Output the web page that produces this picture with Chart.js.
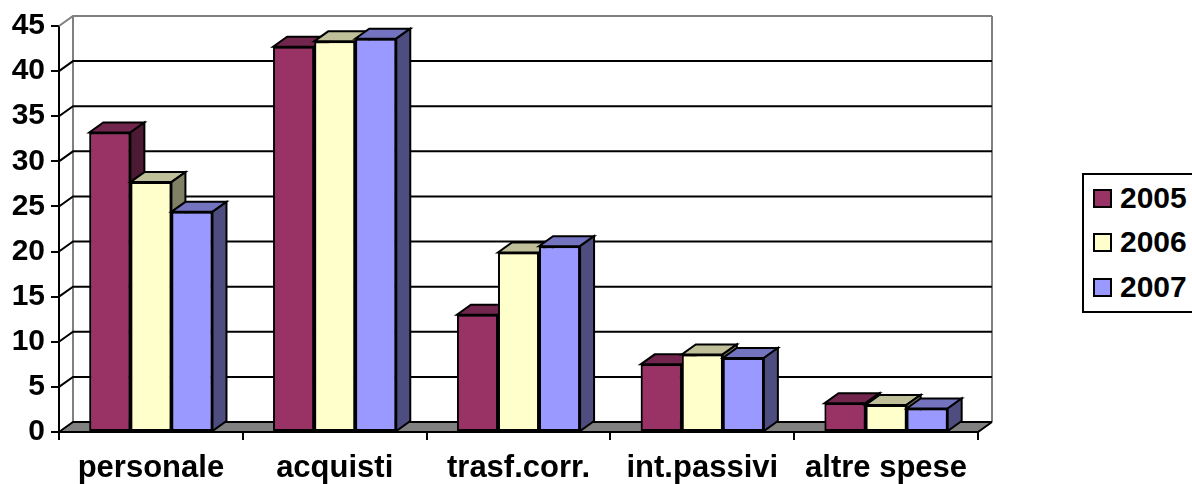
<!DOCTYPE html>
<html>
<head>
<meta charset="utf-8">
<script src="https://cdn.jsdelivr.net/npm/chart.js@4.4.1/dist/chart.umd.min.js"></script>
<style>
  html, body { margin: 0; padding: 0; background: #fff; overflow: hidden; }
  #wrap { position: relative; width: 1192px; height: 484px; }
  #legend {
    position: absolute; left: 1082px; top: 173px; width: 130px; height: 136px;
    border: 2px solid #000; background: #fff;
    font: bold 30px "Liberation Sans", Arial, sans-serif; color: #000;
  }
  .row { position: absolute; left: 9px; height: 32px; line-height: 32px; display: flex; align-items: center; }
  .sw { width: 15px; height: 15px; border: 2px solid #000; margin-right: 8px; }
</style>
</head>
<body>
<div id="wrap">
  <canvas id="chart" width="1192" height="484"></canvas>
  <div id="legend"></div>
</div>
<script>
// data
const categories = ['personale', 'acquisti', 'trasf.corr.', 'int.passivi', 'altre spese'];
const years = ['2005', '2006', '2007'];
const values2005 = [33.2, 42.7, 13.0, 7.5, 3.2];
const values2006 = [27.7, 43.3, 19.9, 8.6, 3.0];
const values2007 = [24.4, 43.6, 20.6, 8.2, 2.6];

const frontColors = ['#993366', '#FFFFCC', '#9999FF'];
const topColors = ['#73264D', '#BFBF99', '#7373BF'];
const sideColors = ['#4D1A33', '#808066', '#4D4D80'];

const FONT = '"Liberation Sans", Arial, sans-serif';
const DX = 14, DY = -10; // depth of the 3d box

function poly(ctx, pts, fill) {
    ctx.beginPath();
    ctx.moveTo(pts[0][0], pts[0][1]);
    for (let i = 1; i < pts.length; i++) ctx.lineTo(pts[i][0], pts[i][1]);
    ctx.closePath();
    ctx.fillStyle = fill;
    ctx.fill();
    ctx.stroke();
}

// back wall, floor and the sides/tops of the bars
const box3d = {
    id: 'box3d',
    beforeDatasetsDraw(chart) {
        const { ctx, chartArea: a, scales: { y } } = chart;
        ctx.save();
        ctx.lineWidth = 2;

        // floor
        ctx.fillStyle = '#808080';
        ctx.beginPath();
        ctx.moveTo(a.left, a.bottom);
        ctx.lineTo(a.right, a.bottom);
        ctx.lineTo(a.right + DX, a.bottom + DY);
        ctx.lineTo(a.left + DX, a.bottom + DY);
        ctx.closePath();
        ctx.fill();

        // wall edges
        ctx.strokeStyle = '#808080';
        ctx.beginPath();
        ctx.moveTo(a.left + DX, a.bottom + DY);
        ctx.lineTo(a.left + DX, a.top + DY);
        ctx.moveTo(a.right + DX, a.top + DY);
        ctx.lineTo(a.right + DX, a.bottom + DY);
        ctx.stroke();

        // gridlines on the back wall
        y.ticks.forEach(t => {
            const py = y.getPixelForValue(t.value);
            ctx.strokeStyle = t.value === y.max ? '#808080' : '#000';
            ctx.beginPath();
            ctx.moveTo(a.left, py);
            ctx.lineTo(a.left + DX, py + DY);
            ctx.lineTo(a.right + DX, py + DY);
            ctx.stroke();
        });

        // front edge of the floor
        ctx.strokeStyle = '#000';
        ctx.beginPath();
        ctx.moveTo(a.left, a.bottom);
        ctx.lineTo(a.right, a.bottom);
        ctx.lineTo(a.right + DX, a.bottom + DY);
        ctx.stroke();
        ctx.restore();
    },
    afterDatasetsDraw(chart) {
        const ctx = chart.ctx;
        const metas = chart.data.datasets.map((d, i) => chart.getDatasetMeta(i));
        ctx.save();
        ctx.lineWidth = 2;
        ctx.strokeStyle = '#000';
        categories.forEach((c, i) => {
            metas.forEach((meta, d) => {
                const bar = meta.data[i];
                bar.draw(ctx);
                const { x, y, base, width } = bar.getProps(['x', 'y', 'base', 'width'], true);
                const l = x - width / 2, r = x + width / 2;
                poly(ctx, [[l, y], [r, y], [r + DX, y + DY], [l + DX, y + DY]], topColors[d]);
                poly(ctx, [[r, y], [r + DX, y + DY], [r + DX, base + DY], [r, base]], sideColors[d]);
            });
        });
        ctx.restore();
    }
};

const series = [values2005, values2006, values2007];

new Chart(document.getElementById('chart'), {
    type: 'bar',
    data: {
        labels: categories,
        datasets: years.map((yr, i) => ({
            label: yr,
            data: series[i],
            backgroundColor: frontColors[i],
            borderColor: '#000',
            borderWidth: 2,
            borderSkipped: false,
            categoryPercentage: 0.67,
            barPercentage: 1
        }))
    },
    options: {
        responsive: false,
        animation: false,
        events: [],
        layout: { padding: { left: 0, right: 214, top: 26, bottom: 0 } },
        plugins: {
            legend: { display: false },
            tooltip: { enabled: false }
        },
        scales: {
            x: {
                grid: { offset: true, drawOnChartArea: false, tickLength: 8, color: '#000', lineWidth: 2 },
                border: { color: '#000', width: 2 },
                ticks: {
                    color: '#000', padding: 10, maxRotation: 0, autoSkip: false,
                    font: { family: FONT, size: 31, weight: 'bold' }
                },
                afterFit: s => { s.height = 52; }
            },
            y: {
                min: 0, max: 45,
                grid: { drawOnChartArea: false, tickLength: 8, color: '#000', lineWidth: 2 },
                border: { color: '#000', width: 2 },
                ticks: {
                    stepSize: 5, color: '#000', padding: 6,
                    font: { family: FONT, size: 30, weight: 'bold' }
                },
                afterFit: s => { s.width = 59; }
            }
        }
    },
    plugins: [box3d]
});

// legend
const legend = document.getElementById('legend');
const rowTops = [7, 51, 96];
years.forEach((yr, i) => {
    const row = document.createElement('div');
    row.className = 'row';
    row.style.top = rowTops[i] + 'px';
    row.innerHTML = '<span class="sw" style="background:' + frontColors[i] + '"></span><span>' + yr + '</span>';
    legend.appendChild(row);
});
</script>
</body>
</html>
